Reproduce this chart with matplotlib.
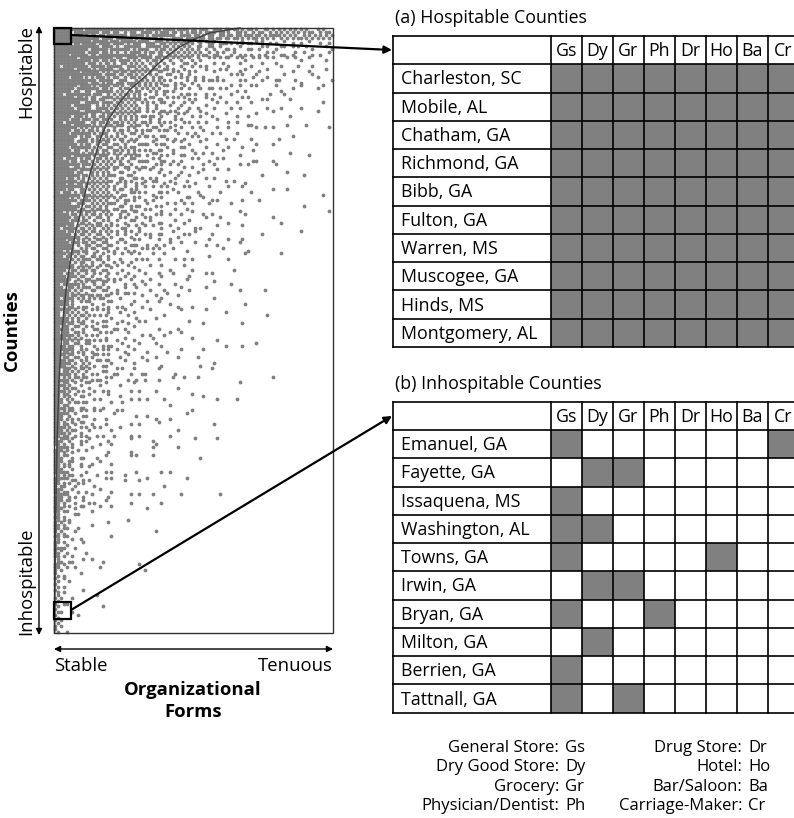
import numpy as np
import matplotlib
matplotlib.use("Agg")
import matplotlib.pyplot as plt
from matplotlib.patches import Rectangle

plt.rcParams['font.family'] = ['Open Sans', 'DejaVu Sans']

# ---- tables ----
forms = ["Gs", "Dy", "Gr", "Ph", "Dr", "Ho", "Ba", "Cr"]

hosp_counties = ["Charleston, SC", "Mobile, AL", "Chatham, GA", "Richmond, GA",
                 "Bibb, GA", "Fulton, GA", "Warren, MS", "Muscogee, GA",
                 "Hinds, MS", "Montgomery, AL"]
hosp_presence = [
    [1, 1, 1, 1, 1, 1, 1, 1],
    [1, 1, 1, 1, 1, 1, 1, 1],
    [1, 1, 1, 1, 1, 1, 1, 1],
    [1, 1, 1, 1, 1, 1, 1, 1],
    [1, 1, 1, 1, 1, 1, 1, 1],
    [1, 1, 1, 1, 1, 1, 1, 1],
    [1, 1, 1, 1, 1, 1, 1, 1],
    [1, 1, 1, 1, 1, 1, 1, 1],
    [1, 1, 1, 1, 1, 1, 1, 1],
    [1, 1, 1, 1, 1, 1, 1, 1],
]

inhosp_counties = ["Emanuel, GA", "Fayette, GA", "Issaquena, MS", "Washington, AL",
                   "Towns, GA", "Irwin, GA", "Bryan, GA", "Milton, GA",
                   "Berrien, GA", "Tattnall, GA"]
inhosp_presence = [
    [1, 0, 0, 0, 0, 0, 0, 1],
    [0, 1, 1, 0, 0, 0, 0, 0],
    [1, 0, 0, 0, 0, 0, 0, 0],
    [1, 1, 0, 0, 0, 0, 0, 0],
    [1, 0, 0, 0, 0, 1, 0, 0],
    [0, 1, 1, 0, 0, 0, 0, 0],
    [1, 0, 0, 1, 0, 0, 0, 0],
    [0, 1, 0, 0, 0, 0, 0, 0],
    [1, 0, 0, 0, 0, 0, 0, 0],
    [1, 0, 1, 0, 0, 0, 0, 0],
]

legend_left = [("General Store:", "Gs"), ("Dry Good Store:", "Dy"),
               ("Grocery:", "Gr"), ("Physician/Dentist:", "Ph")]
legend_right = [("Drug Store:", "Dr"), ("Hotel:", "Ho"),
                ("Bar/Saloon:", "Ba"), ("Carriage-Maker:", "Cr")]

# ---- county x form matrix (share of filled cells per band) ----
row_band_edges = [0, 0.020, 0.053, 0.102, 0.159, 0.226, 0.301, 0.367,
                  0.450, 0.582, 0.681, 0.797, 0.896, 1.0]
col_band_edges = [0, 0.018, 0.043, 0.075, 0.125, 0.201, 0.301, 0.401,
                  0.502, 0.602, 0.703, 0.803, 0.903, 1.0]
fill_share = [
    [1.00, 1.00, 0.95, 0.90, 0.85, 0.80, 0.75, 0.70, 0.65, 0.60, 0.55, 0.50, 0.45],
    [1.00, 0.98, 0.95, 0.90, 0.82, 0.75, 0.65, 0.50, 0.40, 0.30, 0.25, 0.20, 0.15],
    [1.00, 0.97, 0.93, 0.88, 0.75, 0.60, 0.45, 0.30, 0.20, 0.15, 0.12, 0.10, 0.08],
    [1.00, 0.95, 0.90, 0.80, 0.65, 0.50, 0.35, 0.25, 0.15, 0.12, 0.08, 0.05, 0.03],
    [1.00, 0.95, 0.88, 0.70, 0.55, 0.42, 0.30, 0.20, 0.12, 0.08, 0.05, 0.03, 0.01],
    [1.00, 0.93, 0.85, 0.62, 0.50, 0.35, 0.22, 0.15, 0.10, 0.06, 0.03, 0.02, 0.01],
    [1.00, 0.90, 0.78, 0.58, 0.45, 0.30, 0.20, 0.12, 0.08, 0.05, 0.02, 0.01, 0.005],
    [1.00, 0.88, 0.68, 0.52, 0.40, 0.20, 0.12, 0.08, 0.04, 0.03, 0.01, 0.005, 0.0],
    [1.00, 0.80, 0.58, 0.42, 0.28, 0.15, 0.08, 0.05, 0.03, 0.02, 0.01, 0.0, 0.0],
    [0.95, 0.70, 0.45, 0.30, 0.15, 0.08, 0.05, 0.04, 0.02, 0.01, 0.0, 0.0, 0.0],
    [0.90, 0.60, 0.35, 0.20, 0.10, 0.06, 0.04, 0.02, 0.01, 0.0, 0.0, 0.0, 0.0],
    [0.75, 0.40, 0.20, 0.08, 0.03, 0.01, 0.01, 0.0, 0.0, 0.0, 0.0, 0.0, 0.0],
    [0.50, 0.20, 0.08, 0.03, 0.01, 0.0, 0.0, 0.0, 0.0, 0.0, 0.0, 0.0, 0.0],
]

# nestedness isocline (row share, column share)
frontier_rows = [0, 0.008, 0.020, 0.031, 0.045, 0.061, 0.076, 0.102, 0.127,
                 0.152, 0.185, 0.223, 0.260, 0.296, 0.334, 0.367, 0.433,
                 0.499, 0.582, 0.681, 0.780, 0.896, 1.0]
frontier_cols = [0.667, 0.559, 0.495, 0.452, 0.409, 0.369, 0.337, 0.272, 0.229,
                 0.194, 0.165, 0.140, 0.118, 0.100, 0.079, 0.065, 0.043,
                 0.029, 0.018, 0.011, 0.007, 0.004, 0.002]

GRAY = "#808080"


def hilbert_xy(order, d):
    """Cell (x, y) at step d of a Hilbert curve covering an order x order grid."""
    x = y = 0
    s = 1
    t = d
    while s < order:
        rx = 1 & (t // 2)
        ry = 1 & (t ^ rx)
        if ry == 0:
            if rx == 1:
                x = s - 1 - x
                y = s - 1 - y
            x, y = y, x
        x += s * rx
        y += s * ry
        t //= 4
        s *= 2
    return x, y


def hilbert_dither(share):
    """Error diffusion along a Hilbert path: fill-share grid -> 0/1 cells."""
    h, w = share.shape
    order = 1
    while order < max(h, w):
        order *= 2
    out = np.zeros((h, w), dtype=bool)
    err = 0.0
    for d in range(order * order):
        x, y = hilbert_xy(order, d)
        if y >= h or x >= w:
            continue
        v = share[y, x] + err
        on = v >= 0.5
        out[y, x] = on
        err = v - (1.0 if on else 0.0)
    return out


fig = plt.figure(figsize=(7.94, 8.18), dpi=100)
ax = fig.add_axes([0, 0, 1, 1])

# ---- left panel ----
mx0, mx1, my0, my1 = 54, 333, 28, 633
n_rows, n_cols = 216, 100
ri = np.arange(n_rows)
ci = np.arange(n_cols)
rband = np.searchsorted(row_band_edges, (ri + 0.5) / n_rows, side="right") - 1
cband = np.searchsorted(col_band_edges, (ci + 0.5) / n_cols, side="right") - 1
share = np.array(fill_share)[rband][:, cband]
matrix = hilbert_dither(share)
rr, cc = np.nonzero(matrix)
px = mx0 + (cc + 0.5) * (mx1 - mx0) / n_cols
py = my0 + (rr + 0.5) * (my1 - my0) / n_rows
ax.scatter(px, py, s=7.5, marker="o", color=GRAY, linewidths=0, zorder=1)

ax.add_patch(Rectangle((mx0, my0), mx1 - mx0, my1 - my0, fill=False,
                       edgecolor="#333333", lw=1.0, zorder=3))
fx = [mx0 + c * (mx1 - mx0) for c in frontier_cols]
fy = [my0 + r * (my1 - my0) for r in frontier_rows]
ax.plot(fx, fy, color="#454545", lw=1.1, zorder=2)

# callout boxes
ax.add_patch(Rectangle((54, 28), 17, 16, fill=False, edgecolor="black", lw=1.6, zorder=4))
ax.add_patch(Rectangle((54, 602), 17, 17, fill=False, edgecolor="black", lw=1.6, zorder=4))
ax.annotate("", xy=(392, 50), xytext=(71, 35),
            arrowprops=dict(arrowstyle="-|>", lw=1.6, color="black",
                            mutation_scale=11, shrinkA=0, shrinkB=0), zorder=5)
ax.annotate("", xy=(392, 416), xytext=(71, 610),
            arrowprops=dict(arrowstyle="-|>", lw=1.6, color="black",
                            mutation_scale=11, shrinkA=0, shrinkB=0), zorder=5)

# axis arrows
ax.annotate("", xy=(39, 26), xytext=(39, 635),
            arrowprops=dict(arrowstyle="<|-|>", lw=1.0, color="black",
                            mutation_scale=9, shrinkA=0, shrinkB=0))
ax.annotate("", xy=(54, 649), xytext=(333, 649),
            arrowprops=dict(arrowstyle="<|-|>", lw=1.0, color="black",
                            mutation_scale=9, shrinkA=0, shrinkB=0))

LBL = 13.3
ax.text(26, 71, "Hospitable", rotation=90, ha="center", va="center", fontsize=LBL)
ax.text(26, 581, "Inhospitable", rotation=90, ha="center", va="center", fontsize=LBL)
ax.text(12, 330, "Counties", rotation=90, ha="center", va="center",
        fontsize=LBL, fontweight="bold")
ax.text(54, 666, "Stable", ha="left", va="center", fontsize=LBL)
ax.text(333, 666, "Tenuous", ha="right", va="center", fontsize=LBL)
ax.text(193, 690, "Organizational", ha="center", va="center", fontsize=LBL,
        fontweight="bold")
ax.text(193, 712, "Forms", ha="center", va="center", fontsize=LBL, fontweight="bold")


# ---- right tables ----
def draw_table(top, title, counties, presence):
    left, name_right, col_w, row_h = 393, 550.7, 31.0, 28.27
    fs = 12.8
    n = len(counties)
    right = name_right + col_w * len(forms)
    ax.text(left + 2, top - 18, title, ha="left", va="center", fontsize=fs)
    for i, row in enumerate(presence):
        y = top + row_h * (i + 1)
        for j, v in enumerate(row):
            if v:
                ax.add_patch(Rectangle((name_right + col_w * j, y), col_w, row_h,
                                       facecolor=GRAY, edgecolor="none", zorder=1))
        ax.text(left + 8, y + row_h / 2 + 1, counties[i], ha="left", va="center",
                fontsize=fs)
    for j, f in enumerate(forms):
        ax.text(name_right + col_w * (j + 0.5), top + row_h / 2 + 1, f,
                ha="center", va="center", fontsize=fs)
    bottom = top + row_h * (n + 1)
    for k in range(n + 2):
        ax.plot([left, right], [top + row_h * k] * 2, color="black", lw=1.2, zorder=2)
    ax.plot([left, left], [top, bottom], color="black", lw=1.2, zorder=2)
    for j in range(len(forms) + 1):
        x = name_right + col_w * j
        ax.plot([x, x], [top, bottom], color="black", lw=1.2, zorder=2)


draw_table(36, "(a) Hospitable Counties", hosp_counties, hosp_presence)
draw_table(401.7, "(b) Inhospitable Counties", inhosp_counties, inhosp_presence)

# abbreviation key
KEY = 12.0
for k, (lab, ab) in enumerate(legend_left):
    y = 748 + 19.3 * k
    ax.text(559, y, lab, ha="right", va="center", fontsize=KEY)
    ax.text(565, y, ab, ha="left", va="center", fontsize=KEY)
for k, (lab, ab) in enumerate(legend_right):
    y = 748 + 19.3 * k
    ax.text(742, y, lab, ha="right", va="center", fontsize=KEY)
    ax.text(748, y, ab, ha="left", va="center", fontsize=KEY)

ax.set_xlim(0, 794)
ax.set_ylim(818, 0)
ax.axis("off")
fig.savefig("out.png", dpi=100)
